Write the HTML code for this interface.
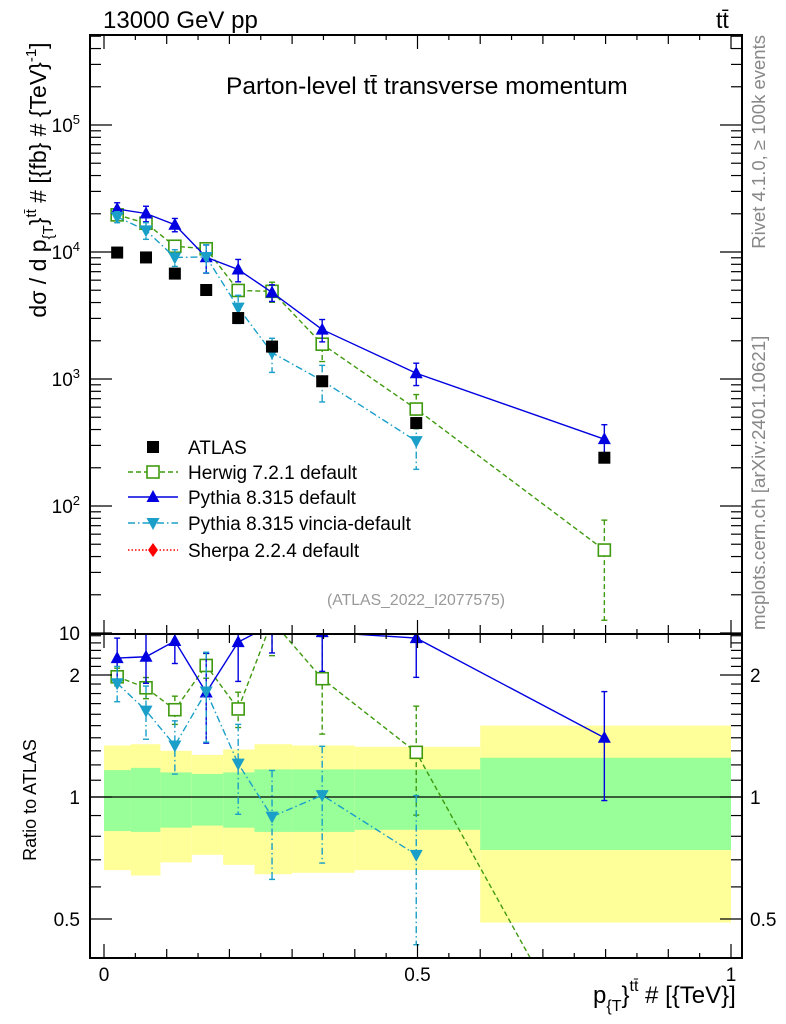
<!DOCTYPE html>
<html><head><meta charset="utf-8"><style>
html,body{margin:0;background:#fff;width:786px;height:1024px;overflow:hidden;position:relative}
svg{display:block;font-family:"Liberation Sans",sans-serif}
</style></head><body>
<svg id="c" width="786" height="1024" viewBox="0 0 786 1024"></svg>
<script>
const binEdges=[0,0.043,0.09,0.14,0.19,0.24,0.30,0.40,0.60,1.0];
const xPts=[0.021,0.067,0.113,0.163,0.214,0.268,0.348,0.498,0.798];
const atlas=[9900,9060,6760,5020,3020,1800,960,450,240];
const herwig=[19600,16850,11100,10600,4980,4900,1880,580,45];
const herwigErr=[0.05,0.06,0.08,0.07,0.1,0.18,0.27,0.3,0.72];
const pythia=[21800,20100,16400,9090,7280,4800,2450,1110,336];
const pythiaErr=[0.12,0.14,0.12,0.25,0.2,0.15,0.2,0.2,0.3];
const vincia=[18900,14800,9060,9140,3650,1610,970,324,null];
const vinciaErr=[0.1,0.15,0.15,0.25,0.25,0.3,0.32,0.4,0];
const yelHi=[1.34,1.35,1.30,1.27,1.31,1.35,1.34,1.33,1.50];
const yelLo=[0.66,0.64,0.69,0.72,0.68,0.645,0.65,0.66,0.49];
const grnHi=[1.165,1.18,1.15,1.14,1.15,1.17,1.17,1.17,1.25];
const grnLo=[0.824,0.82,0.84,0.85,0.84,0.82,0.82,0.83,0.74];

const NS="http://www.w3.org/2000/svg";
const svg=document.getElementById('c');
const L=90,R=742,T=35,MB=634,RB=958;
const X=v=>104+v*627;
const Y=v=>633-127*(Math.log10(v)-1);
const RY=v=>797-122*Math.log2(v);
function el(t,a,p){const e=document.createElementNS(NS,t);for(const k in a)e.setAttribute(k,a[k]);(p||svg).appendChild(e);return e;}
function txt(s,x,y,a){const e=el('text',Object.assign({x:x,y:y,'font-size':16},a||{}));e.textContent=s;return e;}

const defs=el('defs',{});
const c1=el('clipPath',{id:'cm'},defs);el('rect',{x:L,y:T,width:R-L,height:MB-T},c1);
const c2=el('clipPath',{id:'cr'},defs);el('rect',{x:L,y:MB,width:R-L,height:RB-MB},c2);

const bands=el('g',{'clip-path':'url(#cr)'});


for(let i=0;i<atlas.length;i++){
  const x0=X(binEdges[i]),x1=X(binEdges[i+1]);
  const y=el('rect',{x:x0,y:RY(yelHi[i]),width:x1-x0,height:RY(yelLo[i])-RY(yelHi[i]),fill:'#ffff99'},bands);
  
  
  const g=el('rect',{x:x0,y:RY(grnHi[i]),width:x1-x0,height:RY(grnLo[i])-RY(grnHi[i]),fill:'#99ff99'},bands);
  
  
}
el('line',{x1:L,x2:R,y1:RY(1),y2:RY(1),stroke:'#000','stroke-width':1.2});

const series=[
 {name:'herwig',vals:herwig,err:herwigErr,col:'#3f9a0f',dash:'5,3',mk:'sq'},
 {name:'pythia',vals:pythia,err:pythiaErr,col:'#0000e0',dash:'',mk:'up'},
 {name:'vincia',vals:vincia,err:vinciaErr,col:'#1a9fc9',dash:'7,3,1.5,3',mk:'dn'}
];
function marker(g,mk,x,y,col,name){
  let m;
  if(mk==='sq')m=el('rect',{x:x-6,y:y-6,width:12,height:12,fill:'#fff',stroke:col,'stroke-width':1.6},g);
  else if(mk==='up')m=el('path',{d:`M${x},${y-7}L${x+6.5},${y+5}L${x-6.5},${y+5}Z`,fill:col},g);
  else if(mk==='dn')m=el('path',{d:`M${x},${y+7}L${x+6.5},${y-5}L${x-6.5},${y-5}Z`,fill:col},g);
  else m=el('rect',{x:x-6,y:y-6,width:12,height:12,fill:col},g);
  
  
}
function drawSeries(s,ratio){
  const g=el('g',{'clip-path':ratio?'url(#cr)':'url(#cm)'});
  
  
  const pts=[];
  for(let i=0;i<s.vals.length;i++){
    if(s.vals[i]==null)continue;
    const v=ratio?s.vals[i]/atlas[i]:s.vals[i];
    const F=ratio?RY:Y;
    pts.push([X(xPts[i]),F(v),F(v*(1+s.err[i])),F(v*(1-s.err[i]))]);
  }
  let d='';
  pts.forEach((p,i)=>d+=(i?'L':'M')+p[0]+','+p[1]);
  el('path',{d:d,fill:'none',stroke:s.col,'stroke-width':1.4,'stroke-dasharray':s.dash},g);
  pts.forEach(p=>{
    el('line',{x1:p[0],x2:p[0],y1:p[2],y2:p[3],stroke:s.col,'stroke-width':1.4,'stroke-dasharray':s.dash},g);
    el('line',{x1:p[0]-3,x2:p[0]+3,y1:p[2],y2:p[2],stroke:s.col,'stroke-width':1.4},g);
    el('line',{x1:p[0]-3,x2:p[0]+3,y1:p[3],y2:p[3],stroke:s.col,'stroke-width':1.4},g);
    marker(g,s.mk,p[0],p[1],s.col,s.name+'-point');
  });
}
const ga=el('g',{'clip-path':'url(#cm)'});


series.forEach(s=>drawSeries(s,false));
atlas.forEach((v,i)=>marker(ga,'box',X(xPts[i]),Y(v),'#000','atlas-point'));
svg.appendChild(ga);
series.forEach(s=>drawSeries(s,true));

el('rect',{x:L,y:T,width:R-L,height:MB-T,fill:'none',stroke:'#000','stroke-width':2});
el('rect',{x:L,y:MB,width:R-L,height:RB-MB,fill:'none',stroke:'#000','stroke-width':2});

for(let k=0;k<=20;k++){
  const v=k*0.05,x=X(v),len=(k%10===0)?14:(k%2===0?9:5);
  [[T,1],[MB,-1],[MB,1],[RB,-1]].forEach(([y,dir])=>el('line',{x1:x,x2:x,y1:y,y2:y+dir*len,stroke:'#000','stroke-width':1.2}));
}
[['0',0],['0.5',0.5],['1',1]].forEach(([s,v])=>{const t=txt(s,X(v),981,{'text-anchor':'middle','font-size':19});});

for(let e=1;e<=5;e++){for(let m=1;m<=9;m++){
  const v=m*Math.pow(10,e),y=Y(v);if(y<T)continue;
  const len=m===1?22:11;
  el('line',{x1:L,x2:L+len,y1:y,y2:y,stroke:'#000','stroke-width':1.2});
  el('line',{x1:R,x2:R-len,y1:y,y2:y,stroke:'#000','stroke-width':1.2});
}}
const yExps=[1,2,3,4,5];
yExps.forEach(e=>{
  const t=el('text',{x:80,y:Y(Math.pow(10,e))+7,'text-anchor':'end','font-size':19});
  
  
  t.textContent='10';
  if(e>1){const s=el('tspan',{'font-size':13,dy:-8},t);s.textContent=e;}
});
const rt=[0.4,0.5,0.6,0.7,0.8,0.9,1,1.1,1.2,1.3,1.4,1.5,1.6,1.7,1.8,1.9,2,2.1,2.2,2.3,2.4,2.5];
rt.forEach(v=>{const y=RY(v);if(y>RB||y<MB)return;const len=(v===0.5||v===1||v===2)?22:11;
  el('line',{x1:L,x2:L+len,y1:y,y2:y,stroke:'#000','stroke-width':1.2});
  el('line',{x1:R,x2:R-len,y1:y,y2:y,stroke:'#000','stroke-width':1.2});});
[['0.5',0.5],['1',1],['2',2]].forEach(([s,v])=>{
  const a=txt(s,80,RY(v)+7,{'text-anchor':'end','font-size':19});
  const b=txt(s,750,RY(v)+7,{'font-size':19});
});
</script>
<div style="position:absolute;left:0;top:0;width:786px;height:1024px;pointer-events:none;overflow:hidden">
<svg width="786" height="1024" style="font-family:'Liberation Sans',sans-serif">
<text x="103" y="28" font-size="24">13000 GeV pp</text>
<text x="716" y="28" font-size="23">tt̄</text>
<text x="226" y="94" font-size="24.5">Parton-level tt̄ transverse momentum</text>
<g transform="translate(46,180) rotate(-90)">
<text x="0" y="0" font-size="23" text-anchor="middle">dσ / d p<tspan font-size="15" dy="7">{T</tspan><tspan dy="-7">}</tspan><tspan font-size="15" dy="-10">tt̄</tspan><tspan dy="10"> # [{fb} # {TeV}</tspan><tspan font-size="15" dy="-10">-1</tspan><tspan dy="10">]</tspan></text>
</g>
<text transform="translate(36,800) rotate(-90)" font-size="18" text-anchor="middle">Ratio to ATLAS</text>
<text x="593" y="1003" font-size="24">p<tspan font-size="16" dy="8">{T</tspan><tspan dy="-8">}</tspan><tspan font-size="16" dy="-12">tt̄</tspan><tspan dy="12"> # [{TeV}]</tspan></text>
<text transform="translate(765,35) rotate(-90)" font-size="18.5" fill="#888" text-anchor="end">Rivet 4.1.0, ≥ 100k events</text>
<text transform="translate(765,630) rotate(-90)" font-size="18.8" fill="#888">mcplots.cern.ch [arXiv:2401.10621]</text>
<text x="327" y="605" font-size="15.8" fill="#999">(ATLAS_2022_I2077575)</text>
<g font-size="19">
<rect x="147" y="441" width="12" height="12" fill="#000"/>
<text x="188" y="454">ATLAS</text>
<line x1="128" x2="178" y1="472" y2="472" stroke="#3f9a0f" stroke-width="1.4" stroke-dasharray="5,3"/>
<rect x="147" y="466" width="12" height="12" fill="#fff" stroke="#3f9a0f" stroke-width="1.6"/>
<text x="188" y="479">Herwig 7.2.1 default</text>
<line x1="128" x2="178" y1="497" y2="497" stroke="#0000e0" stroke-width="1.4"/>
<path d="M153,490L159.5,502L146.5,502Z" fill="#0000e0"/>
<text x="188" y="504">Pythia 8.315 default</text>
<line x1="128" x2="178" y1="523" y2="523" stroke="#1a9fc9" stroke-width="1.4" stroke-dasharray="7,3,1.5,3"/>
<path d="M153,530L159.5,518L146.5,518Z" fill="#1a9fc9"/>
<text x="188" y="530">Pythia 8.315 vincia-default</text>
<line x1="128" x2="178" y1="550" y2="550" stroke="#f00" stroke-width="1.4" stroke-dasharray="1.5,2"/>
<path d="M153,543L158,550L153,557L148,550Z" fill="#f00"/>
<text x="188" y="557">Sherpa 2.2.4 default</text>
</g>
</svg></div>
</body></html>
